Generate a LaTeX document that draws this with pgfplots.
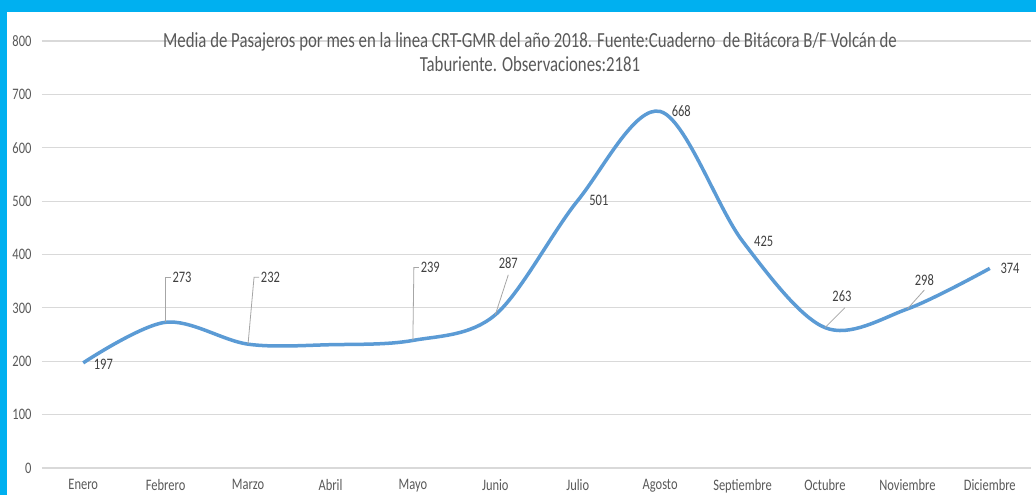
\documentclass[border=0pt]{standalone}
\usepackage{fontspec}
\setmainfont{Carlito}[FakeStretch=0.78]
\usepackage{pgfplots}
\pgfplotsset{compat=1.18}
\definecolor{brd}{RGB}{0,176,240}
\definecolor{ln}{RGB}{91,155,213}
\definecolor{txt}{RGB}{89,89,89}
\definecolor{lbl}{RGB}{64,64,64}
\definecolor{grd}{RGB}{217,217,217}
\definecolor{ldr}{RGB}{166,166,166}
\begin{document}
\begin{tikzpicture}[x=1pt,y=1pt]
\useasboundingbox (0,0) rectangle (1036,495);
\fill[brd] (0,0) rectangle (1036,495);
\fill[white] (7,0) rectangle (1036,483);
\begin{axis}[
  at={(42pt,27pt)}, anchor=south west,
  scale only axis, width=989pt, height=427pt,
  xmin=-0.5, xmax=11.5, ymin=0, ymax=800,
  ytick={0,100,...,800},
  xtick={0,...,11},
  xticklabels={Enero,Febrero,Marzo,Abril,Mayo,Junio,Julio,Agosto,Septiembre,Octubre,Noviembre,Diciembre},
  ymajorgrids, grid style={grd, line width=1.2pt},
  axis line style={draw=none}, tick style={draw=none},
  major tick length=0pt,
  tick label style={font=\fontsize{16}{16}\selectfont, text=txt},
  yticklabel style={xshift=-7pt},
  xticklabel style={yshift=-8pt},
  /pgf/number format/assume math mode=true,
  clip=false,
]
\addplot[ln, line width=3.5pt, smooth, tension=0.55] coordinates {
(0,197)(1,273)(2,232)(3,231)(4,239)(5,287)(6,501)(7,668)(8,425)(9,263)(10,298)(11,374)};
\begin{scope}[every node/.style={font=\fontsize{16}{16}\selectfont, text=lbl, inner sep=1.5pt}]
\node[anchor=west] at ([xshift=9pt,yshift=-1pt]axis cs:0,197) {197};
\draw[ldr, line width=0.8pt] (axis cs:1,273) -- ++(0pt,45pt) -- ++(5pt,0pt) node[anchor=west]{273};
\draw[ldr, line width=0.8pt] (axis cs:2,232) -- ++(6pt,67pt) -- ++(5pt,0pt) node[anchor=west]{232};
\draw[ldr, line width=0.8pt] (axis cs:4,239) -- ++(1pt,73pt) -- ++(5pt,0pt) node[anchor=west]{239};
\draw[ldr, line width=0.8pt] (axis cs:5,287) -- ++(13pt,40pt) node[anchor=south, yshift=4pt]{287};
\node[anchor=west] at ([xshift=10pt]axis cs:6,501) {501};
\node[anchor=west] at ([xshift=10pt]axis cs:7,668) {668};
\node[anchor=west] at ([xshift=10pt]axis cs:8,425) {425};
\draw[ldr, line width=0.8pt] (axis cs:9,263) -- ++(20pt,20pt) node[anchor=south, xshift=-3pt, yshift=4pt]{263};
\draw[ldr, line width=0.8pt] (axis cs:10,298) -- ++(17pt,19pt) node[anchor=south, yshift=2pt]{298};
\node[anchor=west] at ([xshift=9pt]axis cs:11,374) {374};
\end{scope}
\end{axis}
\node[align=center, text=txt, font=\fontsize{21.5}{23.5}\selectfont] at (530,443) {Media de Pasajeros por mes en la linea CRT-GMR del año 2018. Fuente:Cuaderno\ \ de Bitácora B/F Volcán de\\Taburiente. Observaciones:2181};
\end{tikzpicture}
\end{document}
